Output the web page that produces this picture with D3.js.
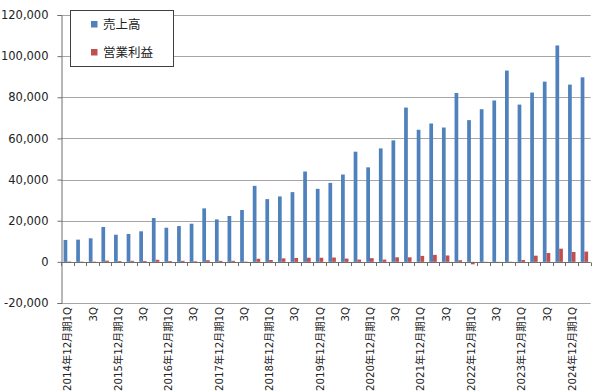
<!DOCTYPE html>
<html><head><meta charset="utf-8">
<script src="https://cdn.jsdelivr.net/npm/d3@7"></script>
<style>
html,body{margin:0;padding:0;background:#fff;}
svg{display:block;font-family:"DejaVu Sans","Noto Sans CJK JP",sans-serif;}
</style></head>
<body><svg id="c" width="600" height="392"></svg>
<script>
const years = [2014,2015,2016,2017,2018,2019,2020,2021,2022,2023,2024];
const quarters = ["1Q","2Q","3Q","4Q"];
const categories = [];
const tickLabels = [];
years.forEach(y => quarters.forEach(q => {
  if (y === 2024 && (q === "3Q" || q === "4Q")) return;
  categories.push(y + "年12月期" + q);
  tickLabels.push(q === "1Q" ? y + "年12月期1Q" : (q === "3Q" ? "3Q" : ""));
}));
const sales = [10650,10800,11450,16950,13200,13550,14850,21300,16600,17400,18550,26000,
  20650,22300,25200,36950,30500,31800,33900,43900,35500,38400,42450,53550,45950,55150,
  59050,75000,64200,67250,65300,82100,68900,74200,78450,93000,76450,82300,87600,105200,86150,89700];
const profit = [200,150,150,600,400,500,400,1000,400,500,300,800,500,500,150,1500,900,1700,
  1900,2000,2000,2100,1600,1100,1800,1100,2200,2200,2900,3400,3100,800,-1200,-300,-200,100,
  900,3000,4300,6400,4800,5000];
const seriesNames = ["売上高","営業利益"];
const colors = ["#4f81bd","#c0504d"];
const yTicks = [-20000,0,20000,40000,60000,80000,100000,120000];

const svg = d3.select("#c");
const L = 61, R = 590.7, T = 15, B = 303;
const x = d3.scaleBand().domain(categories).range([L,R]).paddingInner(0.41).paddingOuter(0.205);
const xs = d3.scaleBand().domain(seriesNames).range([0,x.bandwidth()]);
const xb = d3.scaleBand().domain(categories).range([L,R]).padding(0);
const y = d3.scaleLinear().domain([-20000,120000]).range([B,T]);
const loc = d3.formatLocale({decimal:".",thousands:",",grouping:[3],currency:["",""],minus:"-"});
const fmt = loc.format(",");

// gridlines
svg.append("g").selectAll("line").data(yTicks).join("line")
  .attr("x1",L).attr("x2",R).attr("y1",d=>Math.round(y(d))+0.5).attr("y2",d=>Math.round(y(d))+0.5)
  .attr("stroke","#a6a6a6").attr("stroke-width",1);

// bars
const data = categories.map((c,i)=>({c, v:[sales[i],profit[i]]}));
const g = svg.append("g");
seriesNames.forEach((s,si)=>{
  g.selectAll("rect.s"+si).data(data).join("rect").attr("class","s"+si)
    .attr("x",d=>x(d.c)+xs(s))
    .attr("width",xs.bandwidth())
    .attr("y",d=>y(Math.max(0,d.v[si])))
    .attr("height",d=>Math.abs(y(d.v[si])-y(0)))
    .attr("fill",colors[si]);
});

// y axis
const ya = svg.append("g").attr("transform",`translate(${L+0.5},0)`)
  .call(d3.axisLeft(y).tickValues(yTicks).tickFormat(fmt).tickSize(4).tickPadding(9));
ya.select(".domain").attr("stroke","#6e6e6e");
ya.selectAll(".tick line").attr("stroke","#6e6e6e");
ya.selectAll("text").attr("font-size","11.5px").attr("fill","#222")
  .attr("font-family","DejaVu Sans, sans-serif");

// x axis at zero
const y0 = Math.round(y(0))+0.5;
const xa = svg.append("g");
xa.append("line").attr("x1",L).attr("x2",R).attr("y1",y0).attr("y2",y0).attr("stroke","#6e6e6e");
xa.selectAll("line.t").data(d3.range(categories.length+1)).join("line").attr("class","t")
  .attr("x1",i=>Math.round(L+xb.step()*i)+0.5).attr("x2",i=>Math.round(L+xb.step()*i)+0.5)
  .attr("y1",y0).attr("y2",y0+3.5).attr("stroke","#6e6e6e");

// x labels (every 2nd)
svg.append("g").selectAll("text").data(categories.map((c,i)=>({c,t:tickLabels[i]})).filter(d=>d.t))
  .join("text")
  .attr("transform",d=>`translate(${x(d.c)+x.bandwidth()/2+4},${B+4}) rotate(-90)`)
  .attr("text-anchor","end")
  .attr("font-size","10.2px").attr("fill","#222")
  .text(d=>d.t);

// legend
const lg = svg.append("g");
lg.append("rect").attr("x",70.5).attr("y",10.5).attr("width",103).attr("height",56)
  .attr("fill","#fff").attr("stroke","#404040").attr("stroke-width",1);
seriesNames.forEach((s,i)=>{
  const cy = 24 + i*28;
  lg.append("rect").attr("x",91).attr("y",cy-3).attr("width",6.5).attr("height",6.5).attr("fill",colors[i]);
  lg.append("text").attr("x",103).attr("y",cy).attr("dy","0.36em")
    .attr("font-size","12.5px").attr("fill","#222")
    .attr("font-family","Noto Sans CJK JP, sans-serif").text(s);
});
</script></body></html>
